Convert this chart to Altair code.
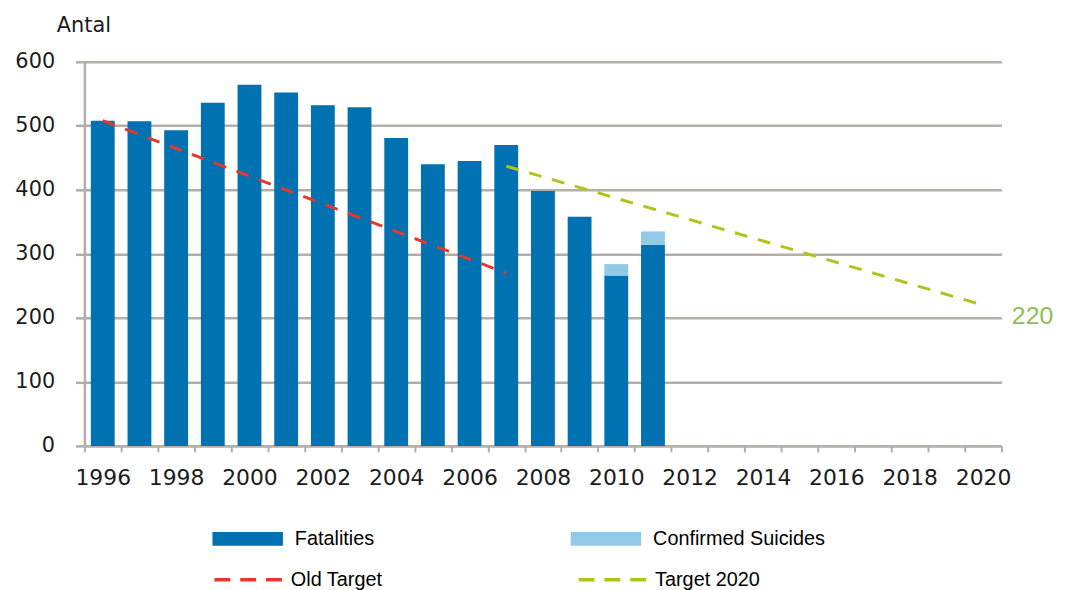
import altair as alt
import pandas as pd

# ---------------- data ----------------
years = [str(y) for y in range(1996, 2021)]
bar_years = [str(y) for y in range(1996, 2012)]
fatalities = [508, 507, 493, 536, 564, 552, 532, 529, 481, 440, 445, 470, 398, 358, 266, 314]
suicide_years = ["2010", "2011"]
suicides = [18, 21]
old_target_years = ["1996", "2007"]
old_target = [508, 270]
target2020_years = ["2007", "2020"]
target2020 = [437, 220]
end_label_year = "2020"
end_label_value = 220
y_ticks = [0, 100, 200, 300, 400, 500, 600]

bar_categories = ["Fatalities", "Confirmed Suicides"]
bar_colors = ["#0071b1", "#92c9e7"]
line_series = ["Old Target", "Target 2020"]
line_colors = ["#e2392c", "#b2c41c"]

GRID = "#b4aea8"
TXT = "#1c1c1c"
AXFONT = "DejaVu Sans"

bars_df = pd.DataFrame(
    [{"year": y, "category": "Fatalities", "value": v, "ord": 0} for y, v in zip(bar_years, fatalities)]
    + [{"year": y, "category": "Confirmed Suicides", "value": v, "ord": 1} for y, v in zip(suicide_years, suicides)]
)
lines_df = pd.DataFrame(
    [{"year": y, "series": "Old Target", "value": v} for y, v in zip(old_target_years, old_target)]
    + [{"year": y, "series": "Target 2020", "value": v} for y, v in zip(target2020_years, target2020)]
)
label_df = pd.DataFrame([{"year": end_label_year, "value": end_label_value, "label": str(end_label_value)}])

# ---------------- shared encodings ----------------
x_scale = alt.Scale(type="band", domain=years, paddingInner=0, paddingOuter=0)
x_axis = alt.Axis(
    title=None,
    tickBand="extent",
    labelExpr="toNumber(datum.value) % 2 == 0 ? datum.label : ''",
    labelAngle=0,
    labelOverlap=False,
    labelFont=AXFONT,
    labelFontSize=22,
    labelColor=TXT,
    labelPadding=16,
    tickSize=6,
    tickColor=GRID,
    tickWidth=2,
    domainColor=GRID,
    domainWidth=2.5,
    grid=False,
)
y_scale = alt.Scale(domain=[0, 600], nice=False, zero=True)
y_axis = alt.Axis(
    values=y_ticks,
    grid=True,
    gridColor=GRID,
    gridWidth=2.5,
    domainColor=GRID,
    domainWidth=2.5,
    tickColor=GRID,
    tickWidth=2.5,
    tickSize=9,
    labelFont=AXFONT,
    labelFontSize=21,
    labelColor=TXT,
    labelPadding=21,
    title="Antal",
    titleAngle=0,
    titleAlign="center",
    titleBaseline="middle",
    titleX=-1,
    titleY=-37,
    titleFont=AXFONT,
    titleFontSize=21,
    titleFontWeight="normal",
    titleColor=TXT,
)

x_enc = alt.X("year:O", scale=x_scale, axis=x_axis)
y_enc = alt.Y("value:Q", scale=y_scale, axis=y_axis)

bars = alt.Chart(bars_df).mark_bar(width={"band": 0.65}).encode(
    x=x_enc,
    y=alt.Y("value:Q", scale=y_scale, axis=y_axis, stack="zero"),
    fill=alt.Fill(
        "category:N",
        scale=alt.Scale(domain=bar_categories, range=bar_colors),
        legend=alt.Legend(
            title=None,
            orient="none",
            legendX=129,
            legendY=445,
            direction="horizontal",
            symbolType="M-1,-0.197H1V0.197H-1Z",
            symbolSize=5041,
            symbolStrokeWidth=0,
            labelFont="Liberation Sans",
            labelFontSize=20,
            labelColor="#000000",
            labelOffset=12,
            labelLimit=400,
            columnPadding=197,
            padding=0,
        ),
    ),
    order=alt.Order("ord:Q"),
)

lines = alt.Chart(lines_df).mark_line(strokeWidth=3, strokeDash=[13, 11]).encode(
    x=x_enc,
    y=y_enc,
    stroke=alt.Stroke(
        "series:N",
        scale=alt.Scale(domain=line_series, range=line_colors),
        legend=alt.Legend(
            title=None,
            orient="none",
            legendX=129,
            legendY=486,
            direction="horizontal",
            symbolType="stroke",
            symbolSize=4624,
            symbolDash=[16, 10],
            symbolStrokeWidth=3.5,
            labelFont="Liberation Sans",
            labelFontSize=20,
            labelColor="#000000",
            labelOffset=7,
            labelLimit=400,
            columnPadding=190,
            padding=0,
        ),
    ),
    detail="series:N",
)

end_label = alt.Chart(label_df).mark_text(
    align="left", baseline="middle", dx=29, dy=11,
    font="Liberation Sans", fontSize=25, color="#8dbf4f",
).encode(x=x_enc, y=y_enc, text="label:N")

chart = (
    alt.layer(bars, lines, end_label)
    .resolve_scale(color="independent")
    .properties(
        width=924,
        height=387,
        autosize=alt.AutoSizeParams(type="none"),
        padding={"left": 77, "top": 52, "right": 56, "bottom": 143},
        background="white",
    )
    .configure_view(stroke=None)
)

chart.save("out.html", embed_options={"renderer": "svg", "actions": False})
